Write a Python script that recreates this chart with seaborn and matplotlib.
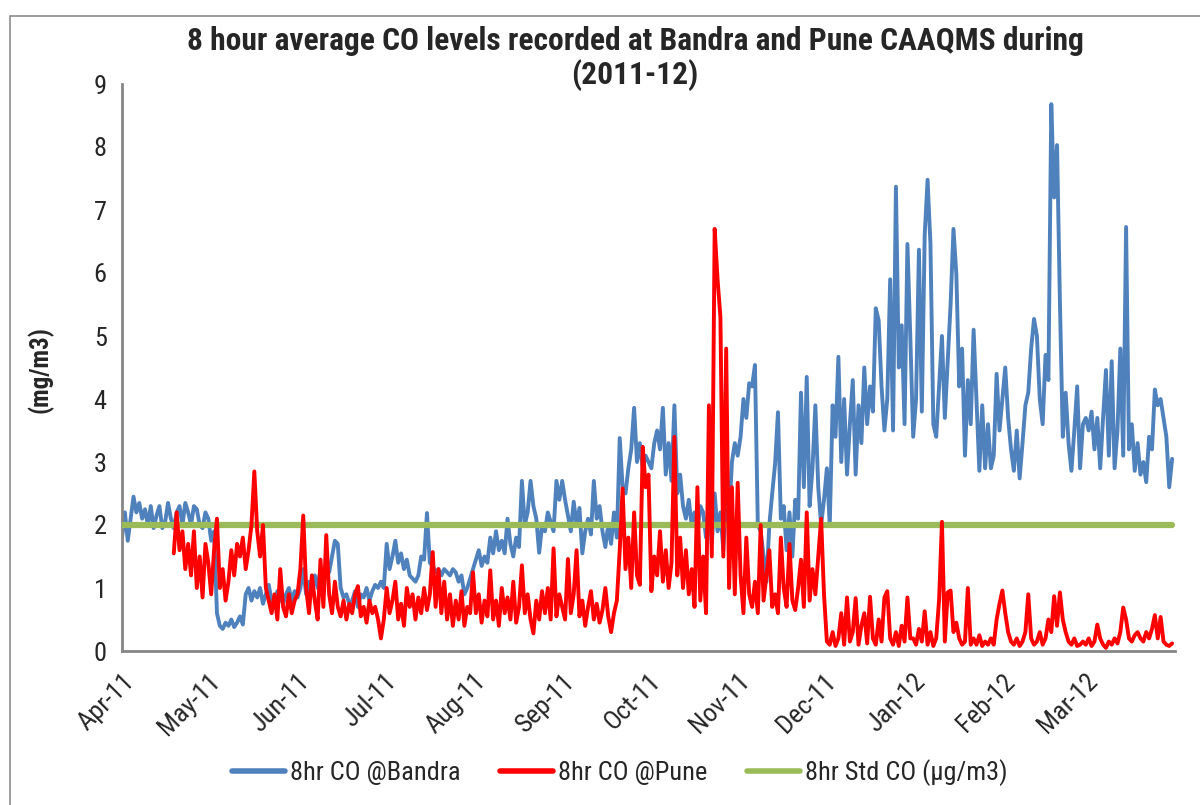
import numpy as np
import pandas as pd
import matplotlib
matplotlib.use("Agg")
import matplotlib.pyplot as plt
from matplotlib.patches import Rectangle
import seaborn as sns

# daily values (mg/m3), Apr-2011 .. Mar-2012
bandra = [
    # Apr
    1.8, 2.2, 1.75, 2.1, 2.45, 2.2, 2.35, 2.1, 2.25, 2.0, 2.3, 1.95, 2.15, 2.3, 1.95,
    2.05, 2.35, 2.1, 1.95, 2.2, 2.3, 2.0, 2.35, 2.2, 2.0, 2.3, 2.25, 2.0, 1.95, 2.2,
    # May
    2.1, 1.75, 1.9, 0.6, 0.4, 0.35, 0.45, 0.4, 0.5, 0.38, 0.45, 0.55, 0.42, 0.9, 1.0,
    0.8, 0.95, 0.85, 1.0, 0.75, 0.9, 1.05, 0.8, 0.7, 0.95, 0.85, 0.75, 0.9, 1.0, 0.8, 0.95,
    # Jun
    0.85, 1.0, 1.3, 0.9, 1.1, 0.95, 1.2, 1.0, 1.3, 1.15, 1.4, 1.25, 1.5, 1.75, 1.7,
    1.0, 0.85, 0.9, 0.75, 0.8, 0.95, 0.7, 0.9, 0.85, 1.0, 0.8, 0.95, 1.05, 1.0, 1.1,
    # Jul
    1.0, 1.7, 1.3, 1.5, 1.75, 1.4, 1.55, 1.3, 1.45, 1.2, 1.15, 1.1, 1.2, 1.5, 1.45,
    2.19, 1.4, 1.35, 1.25, 1.3, 1.2, 1.3, 1.25, 1.2, 1.3, 1.25, 1.1, 1.2, 0.9, 1.0, 1.15,
    # Aug
    1.3, 1.45, 1.6, 1.35, 1.5, 1.4, 1.8, 1.55, 1.9, 1.6, 1.75, 1.55, 2.1, 1.7, 1.5,
    1.8, 1.65, 2.7, 2.0, 2.2, 2.7, 2.3, 2.1, 1.56, 2.0, 1.9, 2.2, 2.05, 1.9, 2.7, 2.4,
    # Sep
    2.7, 2.4, 2.15, 1.9, 2.37, 2.0, 2.27, 1.55, 1.9, 2.1, 1.85, 2.7, 2.1, 2.3, 1.9,
    1.65, 2.0, 1.7, 2.2, 1.8, 3.38, 2.6, 2.5, 2.9, 3.2, 3.86, 3.0, 3.3, 2.9, 3.1,
    # Oct
    3.0, 2.9, 3.3, 3.5, 3.2, 3.86, 2.8, 3.3, 2.7, 3.9, 2.5, 2.8, 2.3, 2.1, 2.4,
    2.0, 2.2, 1.9, 2.3, 2.2, 1.8, 2.3, 1.7, 2.5, 1.9, 2.2, 1.6, 2.4, 2.1, 3.0, 3.3,
    # Nov
    3.1, 3.4, 4.0, 3.7, 4.25, 4.2, 4.54, 2.0, 1.9, 1.5, 1.1, 2.0, 2.5, 2.97, 3.79,
    2.1, 2.3, 1.6, 2.2, 1.5, 2.4, 2.1, 4.1, 2.6, 4.35, 2.3, 2.9, 3.9, 2.6, 2.0,
    # Dec
    2.4, 2.9, 2.0, 3.9, 3.4, 4.67, 3.0, 4.0, 2.8, 3.6, 4.3, 2.8, 3.9, 3.3, 4.5,
    3.6, 4.2, 3.8, 5.44, 5.25, 4.2, 3.5, 4.0, 5.9, 3.5, 7.37, 4.5, 5.17, 3.6, 6.46, 4.98,
    # Jan
    3.4, 4.0, 6.37, 3.8, 6.6, 7.48, 6.46, 3.6, 3.4, 4.2, 5.0, 3.7, 4.6, 5.5, 6.7,
    5.98, 4.2, 4.8, 3.1, 4.3, 3.6, 5.1, 4.0, 2.86, 3.9, 2.9, 3.6, 2.9, 3.1, 4.4, 3.5,
    # Feb
    4.0, 4.5, 3.7, 3.2, 2.86, 3.5, 2.74, 3.3, 3.9, 4.1, 4.8, 5.27, 5.0, 4.0, 3.6,
    4.7, 4.3, 8.68, 7.2, 8.03, 5.54, 3.4, 4.1, 3.3, 2.86, 3.5, 4.2, 2.9, 3.6,
    # Mar
    3.7, 3.5, 3.8, 3.2, 3.7, 2.9, 3.7, 4.46, 3.1, 4.6, 2.9, 3.5, 4.8, 3.1, 6.73,
    3.2, 3.6, 2.86, 3.3, 2.8, 3.0, 2.68, 3.4, 3.2, 4.15, 3.9, 4.0, 3.7, 3.4, 2.6, 3.05,
]

pune = [
    # Apr (station starts on the 19th)
    np.nan, np.nan, np.nan, np.nan, np.nan, np.nan, np.nan, np.nan, np.nan, np.nan,
    np.nan, np.nan, np.nan, np.nan, np.nan, np.nan, np.nan, np.nan,
    1.55, 2.2, 1.6, 1.9, 1.3, 1.7, 1.2, 1.9, 1.0, 1.5, 0.85, 1.7,
    # May
    1.4, 0.9, 1.6, 2.1, 1.0, 1.3, 0.8, 1.1, 1.6, 1.2, 1.7, 1.5, 1.8, 1.3, 1.6,
    2.0, 2.85, 1.9, 1.5, 2.0, 1.0, 0.8, 0.6, 0.9, 0.5, 1.3, 0.7, 0.55, 0.9, 0.6, 0.8,
    # Jun
    0.9, 1.3, 2.15, 1.0, 0.6, 1.2, 0.8, 0.5, 1.45, 0.7, 1.84, 0.9, 0.6, 1.1, 0.7,
    0.55, 0.8, 0.5, 0.75, 0.6, 0.9, 1.03, 0.55, 0.7, 0.45, 0.8, 0.6, 0.7, 0.5, 0.2,
    # Jul
    0.5, 1.0, 0.6, 0.8, 1.1, 0.5, 0.75, 0.4, 1.0, 0.7, 0.9, 0.5, 0.85, 0.6, 1.0,
    0.65, 0.9, 1.57, 0.7, 1.3, 0.6, 1.1, 0.5, 0.9, 0.4, 0.8, 0.5, 0.95, 0.4, 0.7, 0.6,
    # Aug
    1.25, 0.6, 0.9, 0.45, 0.8, 0.55, 1.28, 0.5, 0.8, 0.4, 1.0, 0.6, 0.85, 0.5, 1.1,
    0.45, 0.7, 1.36, 0.6, 0.9, 0.5, 0.28, 0.8, 0.5, 0.95, 0.6, 1.0, 0.5, 1.63, 0.55, 0.9,
    # Sep
    0.7, 0.5, 1.46, 0.6, 0.9, 1.6, 0.55, 0.8, 0.4, 0.7, 0.95, 0.5, 0.75, 0.45, 0.65,
    1.0, 0.55, 0.3, 0.6, 0.8, 1.6, 2.58, 1.3, 1.8, 1.0, 2.2, 1.2, 1.05, 3.24, 2.6,
    # Oct
    2.8, 0.95, 1.5, 1.2, 1.9, 1.1, 1.6, 1.0, 1.4, 3.4, 1.2, 1.8, 1.0, 1.6, 0.9,
    1.3, 0.7, 2.6, 0.8, 1.5, 0.6, 3.9, 1.5, 6.7, 5.9, 5.3, 1.5, 4.8, 1.0, 2.6, 0.9,
    # Nov
    2.67, 1.2, 0.6, 1.8, 0.9, 0.7, 1.1, 0.6, 2.0, 0.8, 1.2, 1.6, 0.7, 0.9, 0.6,
    1.8, 1.0, 0.7, 1.7, 0.8, 0.65, 1.0, 1.45, 0.7, 2.2, 0.8, 1.3, 0.9, 1.5, 2.1,
    # Dec
    0.9, 0.15, 0.1, 0.3, 0.08, 0.2, 0.6, 0.1, 0.85, 0.15, 0.3, 0.84, 0.1, 0.4, 0.6,
    0.12, 0.86, 0.2, 0.1, 0.5, 0.15, 0.85, 0.95, 0.2, 0.1, 0.3, 0.08, 0.4, 0.15, 0.85, 0.2,
    # Jan
    0.2, 0.1, 0.35, 0.15, 0.63, 0.1, 0.3, 0.08, 0.2, 0.81, 2.05, 0.15, 0.93, 0.96, 0.3,
    0.45, 0.2, 0.1, 0.15, 1.0, 0.1, 0.2, 0.1, 0.25, 0.08, 0.15, 0.1, 0.2, 0.1, 0.5, 0.75,
    # Feb
    0.96, 0.6, 0.3, 0.15, 0.1, 0.2, 0.08, 0.15, 0.3, 0.9, 0.2, 0.1, 0.15, 0.3, 0.1,
    0.2, 0.5, 0.3, 0.87, 0.4, 0.93, 0.5, 0.3, 0.15, 0.1, 0.2, 0.08, 0.1, 0.15,
    # Mar
    0.1, 0.2, 0.08, 0.15, 0.42, 0.2, 0.1, 0.05, 0.15, 0.1, 0.2, 0.12, 0.3, 0.69, 0.5,
    0.2, 0.15, 0.25, 0.3, 0.2, 0.15, 0.3, 0.2, 0.35, 0.57, 0.2, 0.54, 0.15, 0.1, 0.08, 0.12,
]

std_co = 2.0
month_labels = ["Apr-11", "May-11", "Jun-11", "Jul-11", "Aug-11", "Sep-11",
                "Oct-11", "Nov-11", "Dec-11", "Jan-12", "Feb-12", "Mar-12"]

dates = pd.date_range("2011-04-01", "2012-03-31", freq="D")
df = pd.DataFrame({"date": dates, "bandra": bandra, "pune": pune})
df["std"] = std_co

sns.set_style("white")
plt.rcParams["font.family"] = ["Roboto Condensed", "DejaVu Sans"]

fig = plt.figure(figsize=(12, 8.05), dpi=100)
fig.patches.append(Rectangle((10 / 1200, -0.01), 1.0, 1 - 16 / 805 + 0.01,
                             transform=fig.transFigure, fill=False,
                             edgecolor="#8c8c8c", lw=1.2))
ax = fig.add_axes([122 / 1200, 1 - 651 / 805, (1175 - 122) / 1200, (651 - 84) / 805])

sns.lineplot(data=df, x="date", y="bandra", ax=ax, color="#4F81BD", lw=2.8,
             label="8hr CO @Bandra", zorder=2, legend=False)
sns.lineplot(data=df, x="date", y="std", ax=ax, color="#9BBB59", lw=4.5,
             label="8hr Std CO (\u00b5g/m3)", zorder=3, legend=False)
sns.lineplot(data=df, x="date", y="pune", ax=ax, color="#FF0000", lw=2.8,
             label="8hr CO @Pune", zorder=4, legend=False)

ax.set_xlim(pd.Timestamp("2011-04-01"), pd.Timestamp("2012-04-01"))
ax.set_ylim(0, 9)
ax.set_yticks(range(0, 10))
ticks = pd.date_range("2011-04-01", periods=12, freq="MS")
ax.set_xticks(ticks)
ax.set_xticklabels(month_labels, rotation=45, ha="right", rotation_mode="anchor")
ax.set_xticks([pd.Timestamp("2012-04-01")], minor=True)
ax.tick_params(axis="both", which="both", direction="out", length=6, width=1.5,
               color="#868686", labelsize=19, pad=5)
ax.tick_params(axis="x", which="major", pad=7)
for side in ["top", "right"]:
    ax.spines[side].set_visible(False)
for side in ["left", "bottom"]:
    ax.spines[side].set_color("#868686")
    ax.spines[side].set_linewidth(2)
ax.set_xlabel("")
ax.set_ylabel("")

fig.text(635 / 1200, 1 - 26 / 805,
         "8 hour average CO levels recorded at Bandra and Pune CAAQMS during\n(2011-12)",
         ha="center", va="top", fontsize=22.7, fontweight="bold", linespacing=1.12)
fig.text(40 / 1200, 1 - 370 / 805, "(mg/m3)", rotation=90, ha="center", va="center",
         fontsize=18, fontweight="bold")

handles, labels = ax.get_legend_handles_labels()
order = [labels.index("8hr CO @Bandra"), labels.index("8hr CO @Pune"),
         labels.index("8hr Std CO (\u00b5g/m3)")]
leg = fig.legend([handles[i] for i in order], [labels[i] for i in order],
                 loc="center", bbox_to_anchor=(620 / 1200, 1 - 773 / 805), ncol=3,
                 frameon=False, fontsize=19, handlelength=2.0, columnspacing=1.5,
                 handletextpad=0.2)
for line in leg.get_lines():
    line.set_linewidth(4)

fig.savefig("out.png", dpi=100)
